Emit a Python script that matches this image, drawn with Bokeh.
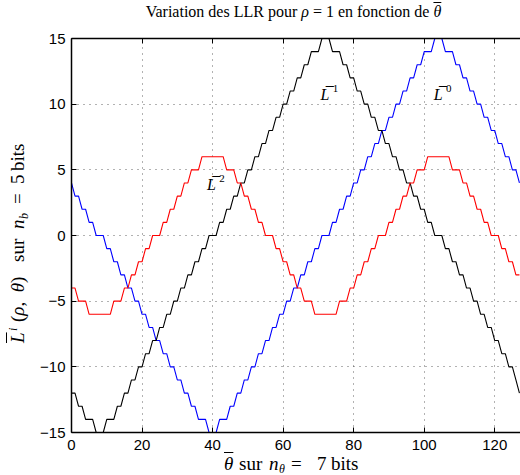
from bokeh.plotting import figure
from bokeh.models import Label, LinearAxis, FixedTicker, Range1d, Div
from bokeh.layouts import row, column
from bokeh.embed import file_html
from bokeh.resources import INLINE

# ---- data ----
theta = list(range(128))

L0 = [4, 3, 3, 2, 2, 1, 1, 0, 0, 0,
      -1, -1, -2, -2, -3, -3, -4, -4, -5, -5,
      -6, -6, -7, -7, -8, -8, -9, -9, -10, -10,
      -11, -11, -12, -12, -13, -13, -14, -14, -14, -15,
      -16, -15, -14, -14, -14, -13, -13, -12, -12, -11,
      -11, -10, -10, -9, -9, -8, -8, -7, -7, -6,
      -6, -5, -5, -4, -4, -3, -3, -2, -2, -1,
      -1, 0, 0, 0, 1, 1, 2, 2, 3, 3,
      4, 4, 5, 5, 6, 6, 7, 7, 8, 8,
      9, 9, 10, 10, 11, 11, 12, 12, 13, 13,
      14, 14, 14, 15, 15, 15, 14, 14, 14, 13,
      13, 12, 12, 11, 11, 10, 10, 9, 9, 8,
      8, 7, 7, 6, 6, 5, 5, 4]

L1 = [-12, -12, -13, -13, -14, -14, -14, -15, -16, -15,
      -14, -14, -14, -13, -13, -12, -12, -11, -11, -10,
      -10, -9, -9, -8, -8, -7, -7, -6, -6, -5,
      -5, -4, -4, -3, -3, -2, -2, -1, -1, 0,
      0, 0, 1, 1, 2, 2, 3, 3, 4, 4,
      5, 5, 6, 6, 7, 7, 8, 8, 9, 9,
      10, 10, 11, 11, 12, 12, 13, 13, 14, 14,
      14, 15, 15, 15, 14, 14, 14, 13, 13, 12,
      12, 11, 11, 10, 10, 9, 9, 8, 8, 7,
      7, 6, 6, 5, 5, 4, 4, 3, 3, 2,
      2, 1, 1, 0, 0, 0, -1, -1, -2, -2,
      -3, -3, -4, -4, -5, -5, -6, -6, -7, -7,
      -8, -8, -9, -9, -10, -10, -11, -12]

L2 = [-4, -4, -5, -5, -5, -6, -6, -6, -6, -6,
      -6, -6, -5, -5, -5, -4, -4, -3, -3, -2,
      -2, -1, -1, 0, 0, 0, 1, 1, 2, 2,
      3, 3, 4, 4, 5, 5, 5, 6, 6, 6,
      6, 6, 6, 6, 5, 5, 5, 4, 4, 3,
      3, 2, 2, 1, 1, 0, 0, 0, -1, -1,
      -2, -2, -3, -3,
      -4, -4, -5, -5, -5, -6, -6, -6, -6, -6,
      -6, -6, -5, -5, -5, -4, -4, -3, -3, -2,
      -2, -1, -1, 0, 0, 0, 1, 1, 2, 2,
      3, 3, 4, 4, 5, 5, 5, 6, 6, 6,
      6, 6, 6, 6, 5, 5, 5, 4, 4, 3,
      3, 2, 2, 1, 1, 0, 0, 0, -1, -1,
      -2, -2, -3, -3]

x_ticks = [0, 20, 40, 60, 80, 100, 120]
y_ticks = [-15, -10, -5, 0, 5, 10, 15]
y_tick_text = ["\u221215", "\u221210", "\u22125", "0", "5", "10", "15"]

curve_names = ["2", "1", "0"]
name_x = [38.4, 70.6, 102.7]
name_y = [3.88, 10.74, 10.74]

SERIF = "Liberation Serif"
SANS = "Liberation Sans"

fig = figure(width=490, height=435,
             x_range=Range1d(0, 127.3), y_range=Range1d(-15, 15),
             output_backend="svg", toolbar_location=None,
             min_border_left=41, min_border_right=0,
             min_border_top=14, min_border_bottom=27)
fig.background_fill_color = "white"
fig.border_fill_color = "white"
fig.outline_line_color = None

xt = FixedTicker(ticks=x_ticks)
yt = FixedTicker(ticks=y_ticks)
fig.xaxis.ticker = xt
fig.yaxis.ticker = yt
fig.xgrid.ticker = xt
fig.ygrid.ticker = yt
fig.yaxis.major_label_overrides = {t: s for t, s in zip(y_ticks, y_tick_text)}

for ax in (fig.xaxis[0], fig.yaxis[0]):
    ax.major_tick_in = 5
    ax.major_tick_out = 0
    ax.minor_tick_line_color = None
    ax.axis_line_width = 1.5
    ax.axis_line_color = "black"
    ax.major_tick_line_color = "black"
    ax.major_label_text_font = SANS
    ax.major_label_text_font_size = "15px"
    ax.major_label_text_color = "black"
fig.xaxis.major_label_standoff = 7
fig.yaxis.major_label_standoff = 6

top = LinearAxis(ticker=xt, major_label_text_font_size="10px",
                 major_label_text_color=None,
                 major_label_standoff=0, major_tick_in=5, major_tick_out=0,
                 minor_tick_line_color=None, axis_line_width=1.5,
                 axis_line_color="black")
fig.add_layout(top, "above")

fig.grid.grid_line_color = "#222222"
fig.grid.grid_line_alpha = 0.7
fig.grid.grid_line_dash = "1 5"
fig.grid.grid_line_width = 1

fig.line(theta, L0, line_color="#0000ff", line_width=1.1)
fig.line(theta, L1, line_color="#000000", line_width=1.1)
fig.line(theta, L2, line_color="#ff0000", line_width=1.1)


def lab(x, y, text, size, italic=False):
    fig.add_layout(Label(x=x, y=y, text=text, text_font=SERIF,
                         text_font_size=size, text_align="left",
                         text_baseline="alphabetic",
                         text_font_style="italic" if italic else "normal",
                         text_color="black"))


# curve names  L-bar with superscript index
for cx, cy, sup in zip(name_x, name_y, curve_names):
    lab(cx, cy, "L", "16px", italic=True)
    lab(cx + 1.5, cy + 0.75, "\u2013", "16px")
    lab(cx + 3.5, cy + 0.45, sup, "11px")

# ---- title and axis labels as HTML text (with sub/superscripts) ----
F = "font-family:'Liberation Serif';color:black;line-height:1;white-space:nowrap;position:absolute;"


def piece(left, text, size=19, top=0, italic=False, over=False, extra=""):
    st = F + "left:%spx;top:%dpx;font-size:%spx;" % (left, top, size) + extra
    if italic:
        st += "font-style:italic;"
    if over:
        st += "text-decoration:overline;"
    return '<span style="%s">%s</span>' % (st, text)


title_html = ('<div style="position:relative;width:490px;height:24px;">'
              + piece(263.5, "Variation des LLR pour <i>\u03c1</i> = 1 en fonction de "
                      '<i style="text-decoration:overline">\u03b8</i>',
                      size=16, top=4, extra="transform:translateX(-50%);")
              + '</div>')

x_html = ('<div style="position:relative;width:490px;height:16px;">'
          + piece(194, "\u03b8", italic=True, over=True, top=-5)
          + piece(209, "sur", top=-5)
          + piece(239, "n", italic=True, top=-5)
          + piece(249, "\u03b8", size=12, italic=True, top=4)
          + piece(261, "=", top=-5)
          + piece(287, "7", top=-5)
          + piece(301, "bits", top=-5)
          + '</div>')

y_inner = (piece(0, "L", italic=True, over=True)
           + piece(12, "i", size=12, italic=True, top=-1)
           + piece(21, "(<i>\u03c1</i>,\u2002<i>\u03b8</i>)")
           + piece(81, "sur")
           + piece(114, "n", italic=True)
           + piece(124, "b", size=12, italic=True, top=10)
           + piece(139, "=")
           + piece(159, "5")
           + piece(172, "bits"))
y_html = ('<div style="position:relative;width:30px;height:475px;">'
          '<div style="position:absolute;left:8px;top:343px;width:210px;height:22px;'
          'transform-origin:0 0;transform:rotate(-90deg);">'
          + y_inner + '</div></div>')

tdiv = Div(text=title_html, width=490, height=24, margin=0)
xdiv = Div(text=x_html, width=490, height=16, margin=0)
ydiv = Div(text=y_html, width=30, height=475, margin=0)

page = row(ydiv, column(tdiv, fig, xdiv, spacing=0), spacing=0)

open("out.html", "w").write(file_html(page, INLINE))
